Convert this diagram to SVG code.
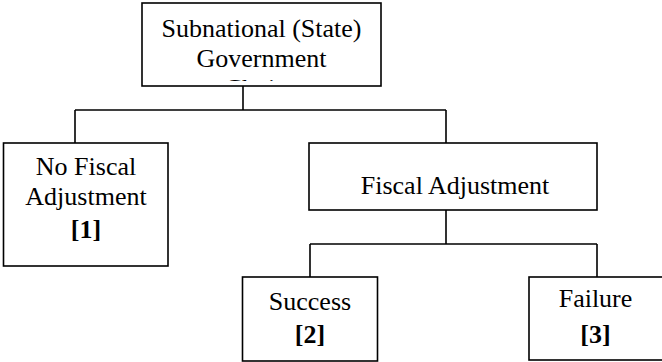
<svg xmlns="http://www.w3.org/2000/svg" width="662" height="362" viewBox="0 0 662 362">
<style>
.box{fill:#fff;stroke:#000;stroke-width:1.6}
.t{font-family:"Liberation Serif","Times New Roman",serif;font-size:26px;fill:#000;text-anchor:middle}
.b{font-weight:bold}
.c{fill:none;stroke:#000;stroke-width:1.6}
</style>
<defs>
<clipPath id="clipTop"><rect x="142" y="3" width="239" height="78"/></clipPath>
</defs>
<rect width="662" height="362" fill="#fff"/>
<g id="connectors">
<path class="c" d="M243,86V110M75,110H446M75,110V143M446,110V143"/>
<path class="c" d="M446,210V244M310,244H597M310,244V277M597,244V277"/>
</g>
<g id="root">
<rect class="box" x="142" y="3" width="239" height="83"/>
<text class="t" x="261.5" y="36.5">Subnational (State)</text>
<text class="t" x="261.5" y="66.5">Government</text>
<text class="t" x="261.5" y="96.5" clip-path="url(#clipTop)">Choice</text>
</g>
<g id="noFiscal">
<rect class="box" x="3.5" y="143" width="164.5" height="123"/>
<text class="t" x="86" y="175">No Fiscal</text>
<text class="t" x="86" y="205">Adjustment</text>
<text class="t b" x="86" y="238">[1]</text>
</g>
<g id="fiscal">
<rect class="box" x="309" y="143" width="288" height="67"/>
<text class="t" x="455" y="194">Fiscal Adjustment</text>
</g>
<g id="success">
<rect class="box" x="242.5" y="277" width="135" height="84"/>
<text class="t" x="310" y="310">Success</text>
<text class="t b" x="310" y="343">[2]</text>
</g>
<g id="failure">
<rect class="box" x="529" y="277" width="140" height="83"/>
<text class="t" x="595.5" y="307">Failure</text>
<text class="t b" x="595.5" y="343">[3]</text>
</g>
</svg>
